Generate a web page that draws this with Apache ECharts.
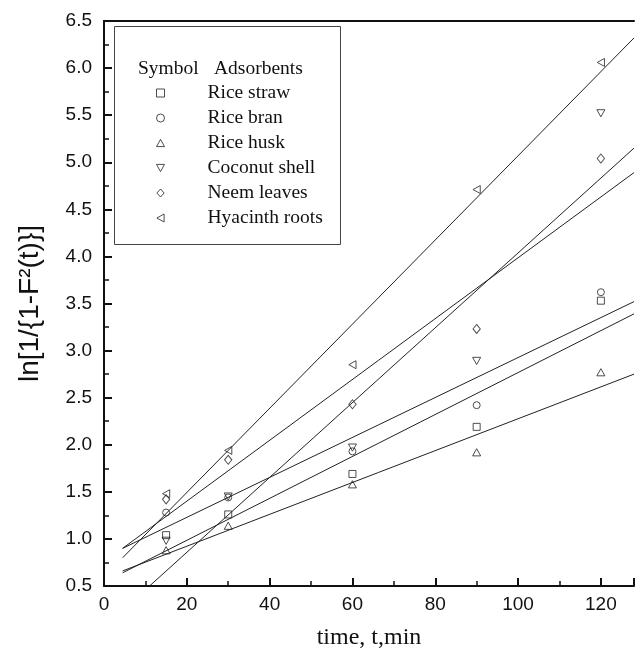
<!DOCTYPE html>
<html>
<head>
<meta charset="utf-8">
<script src="https://cdn.jsdelivr.net/npm/echarts@6/dist/echarts.min.js"></script>
<style>
html,body{margin:0;padding:0;background:#fff;}
#chart{width:635px;height:655px;}
</style>
</head>
<body>
<div id="chart"></div>
<script>
// ---- data ----
var times = [15, 30, 60, 90, 120];
var seriesNames = ['Rice straw', 'Rice bran', 'Rice husk', 'Coconut shell', 'Neem leaves', 'Hyacinth roots'];
var riceStraw     = [1.04, 1.26, 1.69, 2.19, 3.53];
var riceBran      = [1.28, 1.44, 1.93, 2.42, 3.62];
var riceHusk      = [0.88, 1.14, 1.58, 1.92, 2.77];
var coconutShell  = [0.98, 1.45, 1.97, 2.89, 5.52];
var neemLeaves    = [1.42, 1.84, 2.43, 3.23, 5.04];
var hyacinthRoots = [1.48, 1.94, 2.85, 4.71, 6.06];
// fitted straight lines (end points)
var lineStartX = [4.5, 4.5, 4.5, 11, 4.5, 4.5];
var lineStartY = [0.64, 0.90, 0.66, 0.50, 0.90, 0.80];
var lineEndX   = [128, 128, 128, 128, 128, 128];
var lineEndY   = [3.39, 3.52, 2.75, 5.15, 4.89, 6.32];
var yTicks = [0.5, 6.5, 0.5]; // min, max, interval
var xTicks = [0, 128, 20];

var allValues = [riceStraw, riceBran, riceHusk, coconutShell, neemLeaves, hyacinthRoots];
var symbols = [
  ['path://M0,0L10,0L10,10L0,10Z', 7],
  ['circle', 7],
  ['path://M5,0L10,9L0,9Z', 8],
  ['path://M0,0L10,0L5,9Z', 8],
  ['path://M5,0L10,5.5L5,11L0,5.5Z', [8, 9]],
  ['path://M9,0L9,10L0,5Z', 8]
];

var series = [];
for (var i = 0; i < seriesNames.length; i++) {
  series.push({
    name: seriesNames[i],
    type: 'scatter',
    data: times.map(function (t, k) { return [t, allValues[i][k]]; }),
    symbol: symbols[i][0],
    symbolSize: symbols[i][1],
    symbolKeepAspect: true,
    itemStyle: { color: 'rgba(0,0,0,0)', borderColor: '#222', borderWidth: 1 },
    emphasis: { disabled: true },
    z: 3
  });
}
for (var j = 0; j < seriesNames.length; j++) {
  series.push({
    name: seriesNames[j] + ' fit',
    type: 'line',
    data: [[lineStartX[j], lineStartY[j]], [lineEndX[j], lineEndY[j]]],
    symbol: 'none',
    lineStyle: { color: '#222', width: 1 },
    silent: true,
    clip: true,
    z: 2
  });
}

var chart = echarts.init(document.getElementById('chart'), null, { renderer: 'canvas' });
chart.setOption({
  animation: false,
  backgroundColor: '#fff',
  grid: { left: 104, top: 21, right: 1, bottom: 67, containLabel: false },
  xAxis: [{
    type: 'value',
    min: xTicks[0], max: xTicks[1], interval: xTicks[2],
    name: 'time, t,min',
    nameLocation: 'middle',
    nameGap: 40,
    nameTextStyle: { fontFamily: 'Liberation Serif', fontSize: 24, color: '#111' },
    axisLine: { show: true, onZero: false, lineStyle: { color: '#111', width: 2 } },
    axisTick: { show: true, inside: true, length: 8, lineStyle: { color: '#111', width: 2 } },
    minorTick: { show: true, splitNumber: 2, length: 5, lineStyle: { color: '#111', width: 1.5 } },
    axisLabel: { showMaxLabel: false, margin: 9, fontFamily: 'Liberation Sans', fontSize: 19, color: '#111' },
    splitLine: { show: false }
  }, {
    type: 'value',
    position: 'top',
    min: xTicks[0], max: xTicks[1],
    axisLine: { show: true, onZero: false, lineStyle: { color: '#111', width: 2 } },
    axisTick: { show: false },
    axisLabel: { show: false },
    splitLine: { show: false }
  }],
  yAxis: {
    type: 'value',
    min: yTicks[0], max: yTicks[1], interval: yTicks[2],
    name: 'ln[1/{1-F²(t)}]',
    nameLocation: 'middle',
    nameGap: 60,
    nameTextStyle: { fontFamily: 'Liberation Sans', fontSize: 28, color: '#111' },
    axisLine: { show: true, onZero: false, lineStyle: { color: '#111', width: 2 } },
    axisTick: { show: true, inside: true, length: 8, lineStyle: { color: '#111', width: 2 } },
    minorTick: { show: true, splitNumber: 2, length: 5, lineStyle: { color: '#111', width: 1.5 } },
    axisLabel: {
      margin: 12, fontFamily: 'Liberation Sans', fontSize: 19, color: '#111',
      formatter: function (v) { return v.toFixed(1); }
    },
    splitLine: { show: false }
  },
  legend: {
    data: seriesNames,
    orient: 'vertical',
    left: 151,
    top: 78,
    itemWidth: 8,
    itemHeight: 8,
    itemGap: 5,
    selectedMode: false,
    symbolKeepAspect: true,
    itemStyle: { borderWidth: 1, borderColor: '#222', color: 'rgba(0,0,0,0)' },
    textStyle: { fontFamily: 'Liberation Serif', fontSize: 19.5, lineHeight: 19, color: '#111', padding: [0, 0, 0, 38] }
  },
  graphic: [
    { type: 'rect', left: 112, top: 24, z: 10, silent: true,
      shape: { width: 226, height: 218 },
      style: { fill: 'none', stroke: '#444', lineWidth: 1 } },
    { type: 'text', left: 138, top: 59, z: 10, silent: true,
      style: { text: 'Symbol', font: '19.5px "Liberation Serif"', fill: '#111' } },
    { type: 'text', left: 214, top: 59, z: 10, silent: true,
      style: { text: 'Adsorbents', font: '19.5px "Liberation Serif"', fill: '#111' } }
  ],
  series: series
});
</script>
</body>
</html>
